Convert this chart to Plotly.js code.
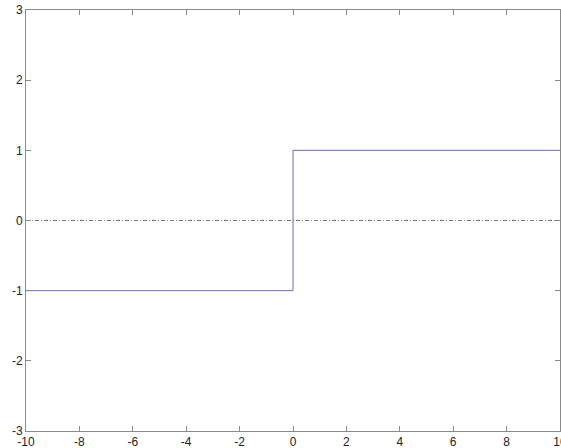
<!DOCTYPE html>
<html>
<head>
<meta charset="utf-8">
<script src="https://cdn.plot.ly/plotly-3.0.1.min.js"></script>
<style>html,body{margin:0;padding:0;background:#fff;}#chart{width:561px;height:448px;}</style>
</head>
<body>
<div id="chart"></div>
<script>
var stepX = [-10, 0, 0, 10];
var stepY = [-1, -1, 1, 1];
var zeroX = [-10, 10];
var zeroY = [0, 0];
var xTicks = [-10, -8, -6, -4, -2, 0, 2, 4, 6, 8, 10];
var yTicks = [-3, -2, -1, 0, 1, 2, 3];

var traces = [
  {x: zeroX, y: zeroY, mode: 'lines', line: {color: '#7a7a6a', width: 1, dash: '4px,2px,1px,2px'}, hoverinfo: 'skip'},
  {x: stepX, y: stepY, mode: 'lines', line: {color: '#6a6ab8', width: 1}, hoverinfo: 'skip'}
];
var axisCommon = {
  showgrid: false, zeroline: false, showline: true, linecolor: '#8a8a8a', linewidth: 1,
  mirror: 'ticks', ticks: 'inside', ticklen: 5, tickcolor: '#8a8a8a', tickwidth: 1,
  ticklabeloverflow: 'allow',
  tickfont: {family: 'Liberation Sans, Arial, sans-serif', size: 12, color: '#222'}
};
var layout = {
  width: 561, height: 448,
  margin: {l: 26, r: 1, t: 10, b: 17},
  paper_bgcolor: '#fff', plot_bgcolor: '#fff',
  showlegend: false,
  xaxis: Object.assign({}, axisCommon, {range: [-10, 10.0001], tickvals: xTicks, ticktext: xTicks.map(String)}),
  yaxis: Object.assign({}, axisCommon, {range: [-3, 3], tickvals: yTicks, ticktext: yTicks.map(String)})
};
Plotly.newPlot('chart', traces, layout, {staticPlot: true, displayModeBar: false});
</script>
</body>
</html>
